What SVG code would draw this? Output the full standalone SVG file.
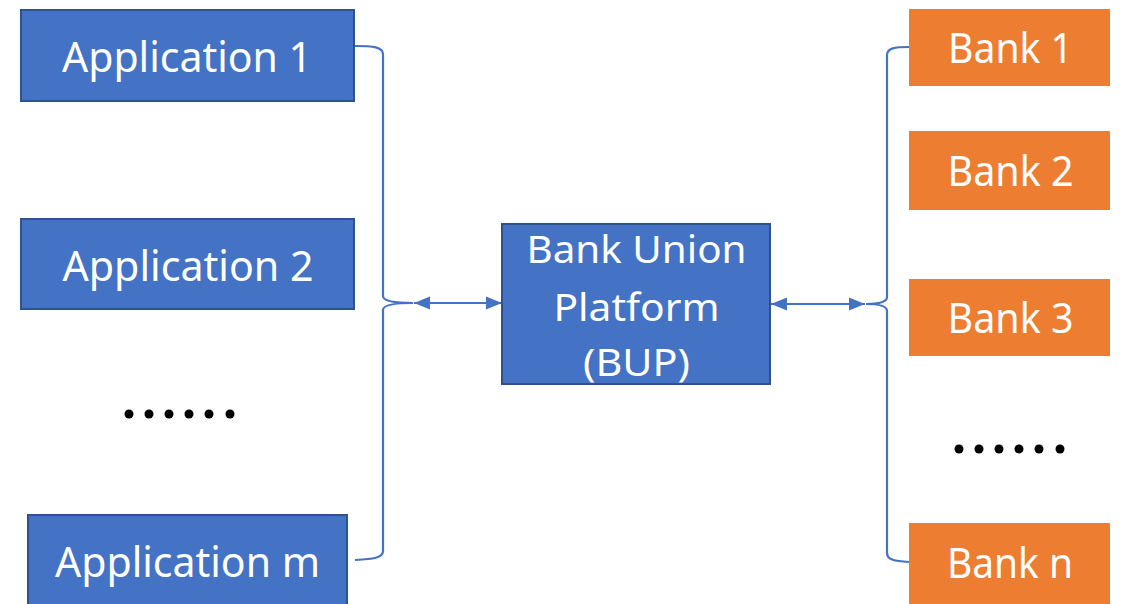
<svg xmlns="http://www.w3.org/2000/svg" width="1122" height="604" viewBox="0 0 1122 604">
<style>
.app{fill:#4472C4;stroke:#2F528F;stroke-width:2}
.bank{fill:#ED7D31;stroke:none}
.t{font-family:"Noto Sans","Liberation Sans",sans-serif;fill:#ffffff;text-anchor:middle}
.con{fill:none;stroke:#4472C4;stroke-width:2.2}
.dot{fill:#000000}
</style>
<defs>
<marker id="ah" markerUnits="userSpaceOnUse" markerWidth="16" markerHeight="14" refX="16" refY="7" orient="auto-start-reverse">
<path d="M0,0.5 L16,7 L0,13.5 z" fill="#4472C4"/>
</marker>
</defs>
<g id="connectors">
<path class="con" d="M355,46 C373,46 383,47 383,54 L383,296 C383,301 393,303 413,303 C393,303 383,305 383,310 L383,551 C383,558 373,559 355,560"/>
<path class="con" d="M909,47 C895,47 887,48 887,55 L887,297 C887,302 880,304 866,304 C880,304 887,306 887,311 L887,553 C887,560 895,561 909,562"/>
<line class="con" x1="414" y1="303" x2="502" y2="303" marker-start="url(#ah)" marker-end="url(#ah)"/>
<line class="con" x1="771" y1="304" x2="865" y2="304" marker-start="url(#ah)" marker-end="url(#ah)"/>
</g>
<g id="app1"><rect class="app" x="21" y="10" width="333" height="91"/><text class="t" x="187" y="72" font-size="41" textLength="250" lengthAdjust="spacingAndGlyphs">Application 1</text></g>
<g id="app2"><rect class="app" x="21" y="219" width="333" height="90"/><text class="t" x="188" y="281" font-size="41" textLength="251" lengthAdjust="spacingAndGlyphs">Application 2</text></g>
<g id="appm"><rect class="app" x="28" y="515" width="319" height="95"/><text class="t" x="187.5" y="577" font-size="41" textLength="265" lengthAdjust="spacingAndGlyphs">Application m</text></g>
<g id="dotsLeft"><circle class="dot" cx="129" cy="414" r="4.5"/><circle class="dot" cx="149" cy="414" r="4.5"/><circle class="dot" cx="169" cy="414" r="4.5"/><circle class="dot" cx="189" cy="414" r="4.5"/><circle class="dot" cx="209" cy="414" r="4.5"/><circle class="dot" cx="230" cy="414" r="4.5"/></g>
<g id="bup"><rect class="app" x="502" y="224" width="268" height="160"/>
<text class="t" x="636.5" y="263" font-size="38" textLength="220" lengthAdjust="spacingAndGlyphs">Bank Union</text>
<text class="t" x="636.5" y="321" font-size="38" textLength="166" lengthAdjust="spacingAndGlyphs">Platform</text>
<text class="t" x="636.5" y="376" font-size="38" textLength="107" lengthAdjust="spacingAndGlyphs">(BUP)</text></g>
<g id="bank1"><rect class="bank" x="909" y="9" width="201" height="77"/><text class="t" x="1010.5" y="63" font-size="41" textLength="125" lengthAdjust="spacingAndGlyphs">Bank 1</text></g>
<g id="bank2"><rect class="bank" x="909" y="131" width="201" height="79"/><text class="t" x="1010.5" y="186" font-size="41" textLength="126" lengthAdjust="spacingAndGlyphs">Bank 2</text></g>
<g id="bank3"><rect class="bank" x="909" y="279" width="201" height="77"/><text class="t" x="1010.5" y="333" font-size="41" textLength="126" lengthAdjust="spacingAndGlyphs">Bank 3</text></g>
<g id="dotsRight"><circle class="dot" cx="959" cy="449" r="4.5"/><circle class="dot" cx="979" cy="449" r="4.5"/><circle class="dot" cx="999" cy="449" r="4.5"/><circle class="dot" cx="1019" cy="449" r="4.5"/><circle class="dot" cx="1039" cy="449" r="4.5"/><circle class="dot" cx="1060" cy="449" r="4.5"/></g>
<g id="bankn"><rect class="bank" x="909" y="523" width="201" height="85"/><text class="t" x="1010" y="578" font-size="41" textLength="126" lengthAdjust="spacingAndGlyphs">Bank n</text></g>
</svg>
